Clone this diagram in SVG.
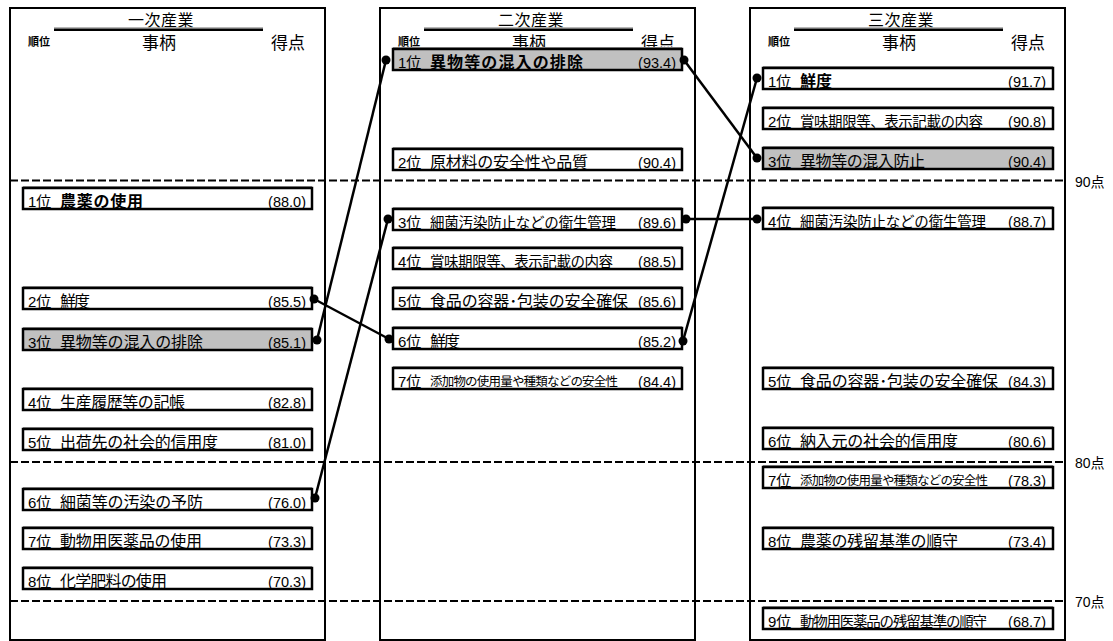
<svg xmlns="http://www.w3.org/2000/svg" width="1113" height="641" viewBox="0 0 1113 641">
<style>
.bg{fill:#fff}
.frame{fill:none;stroke:#000;stroke-width:2}
.box{fill:#fff;stroke:#000;stroke-width:2.5}
.gray{fill:#c0c0c0}
.sh{stroke:#999;stroke-width:1}
.t{font-family:"Liberation Sans","Noto Sans CJK JP",sans-serif;fill:#000}
.rank{font-size:15px}
.item{font-size:16px}
.long{font-size:14.5px}
.small{font-size:12.5px}
.b{font-weight:bold}
.score{font-size:14.5px;text-anchor:end}
.title{font-size:16px;text-anchor:middle;letter-spacing:0.5px}
.hdr{font-size:17px}
.jun{font-size:11px;font-weight:bold}
.ul{stroke:#000;stroke-width:2.5}
.ulg{stroke:#999;stroke-width:1}
.dash{stroke:#000;stroke-width:2;stroke-dasharray:8 3}
.lvl{font-size:14px}
.conn line{stroke:#000;stroke-width:2.5}
.conn circle{fill:#000}
</style>
<rect class="bg" x="0" y="0" width="1113" height="641"/>

<g id="col-primary">
  <rect class="frame" x="10" y="8" width="315" height="632"/>
  <text class="t title" x="161" y="26">一次産業</text>
  <line class="ulg" x1="54" y1="27.8" x2="263" y2="27.8"/>
  <line class="ul" x1="54" y1="29.8" x2="263" y2="29.8"/>
  <text class="t jun" x="28" y="46">順位</text>
  <text class="t hdr" x="159" y="49" text-anchor="middle">事柄</text>
  <text class="t hdr" x="271" y="49">得点</text>
</g>
<g id="col-secondary">
  <rect class="frame" x="380" y="8" width="315" height="632"/>
  <text class="t title" x="531" y="26">二次産業</text>
  <line class="ulg" x1="424" y1="27.8" x2="633" y2="27.8"/>
  <line class="ul" x1="424" y1="29.8" x2="633" y2="29.8"/>
  <text class="t jun" x="398" y="46">順位</text>
  <text class="t hdr" x="529" y="49" text-anchor="middle">事柄</text>
  <text class="t hdr" x="641" y="49">得点</text>
</g>
<g id="col-tertiary">
  <rect class="frame" x="750" y="8" width="315" height="632"/>
  <text class="t title" x="901" y="26">三次産業</text>
  <line class="ulg" x1="794" y1="27.8" x2="1003" y2="27.8"/>
  <line class="ul" x1="794" y1="29.8" x2="1003" y2="29.8"/>
  <text class="t jun" x="768" y="46">順位</text>
  <text class="t hdr" x="899" y="49" text-anchor="middle">事柄</text>
  <text class="t hdr" x="1011" y="49">得点</text>
</g>

<g id="levels">
  <line class="dash" x1="10" y1="180.5" x2="1066" y2="180.5"/>
  <line class="dash" x1="10" y1="462" x2="1066" y2="462"/>
  <line class="dash" x1="10" y1="601" x2="1066" y2="601"/>
  <text class="t lvl" x="1075" y="187">90点</text>
  <text class="t lvl" x="1075" y="468">80点</text>
  <text class="t lvl" x="1075" y="607">70点</text>
</g>

<!-- primary industry -->
<g id="p1"><line class="sh" x1="23" y1="186.5" x2="312" y2="186.5"/><rect class="box" x="23" y="188" width="289" height="21"/>
<text class="t rank" x="28" y="207">1位</text><text class="t item b" x="60" y="207" textLength="83" lengthAdjust="spacing">農薬の使用</text><text class="t score" x="306" y="207">(88.0)</text></g>
<g id="p2"><line class="sh" x1="23" y1="286.5" x2="312" y2="286.5"/><rect class="box" x="23" y="288" width="289" height="21"/>
<text class="t rank" x="28" y="307">2位</text><text class="t item" x="60" y="307" textLength="30" lengthAdjust="spacing">鮮度</text><text class="t score" x="306" y="307">(85.5)</text></g>
<g id="p3"><line class="sh" x1="23" y1="327.5" x2="312" y2="327.5"/><rect class="box gray" x="23" y="329" width="289" height="21"/>
<text class="t rank" x="28" y="348">3位</text><text class="t item" x="60" y="348" textLength="143" lengthAdjust="spacing">異物等の混入の排除</text><text class="t score" x="306" y="348">(85.1)</text></g>
<g id="p4"><line class="sh" x1="23" y1="387.5" x2="312" y2="387.5"/><rect class="box" x="23" y="389" width="289" height="21"/>
<text class="t rank" x="28" y="408">4位</text><text class="t item" x="60" y="408" textLength="125" lengthAdjust="spacing">生産履歴等の記帳</text><text class="t score" x="306" y="408">(82.8)</text></g>
<g id="p5"><line class="sh" x1="23" y1="427.5" x2="312" y2="427.5"/><rect class="box" x="23" y="429" width="289" height="21"/>
<text class="t rank" x="28" y="448">5位</text><text class="t item" x="60" y="448" textLength="158" lengthAdjust="spacing">出荷先の社会的信用度</text><text class="t score" x="306" y="448">(81.0)</text></g>
<g id="p6"><line class="sh" x1="23" y1="487.5" x2="312" y2="487.5"/><rect class="box" x="23" y="489" width="289" height="21"/>
<text class="t rank" x="28" y="508">6位</text><text class="t item" x="60" y="508" textLength="143" lengthAdjust="spacing">細菌等の汚染の予防</text><text class="t score" x="306" y="508">(76.0)</text></g>
<g id="p7"><line class="sh" x1="23" y1="526.5" x2="312" y2="526.5"/><rect class="box" x="23" y="528" width="289" height="21"/>
<text class="t rank" x="28" y="547">7位</text><text class="t item" x="60" y="547" textLength="142" lengthAdjust="spacing">動物用医薬品の使用</text><text class="t score" x="306" y="547">(73.3)</text></g>
<g id="p8"><line class="sh" x1="23" y1="566.5" x2="312" y2="566.5"/><rect class="box" x="23" y="568" width="289" height="21"/>
<text class="t rank" x="28" y="587">8位</text><text class="t item" x="60" y="587" textLength="107" lengthAdjust="spacing">化学肥料の使用</text><text class="t score" x="306" y="587">(70.3)</text></g>

<!-- secondary industry -->
<g id="s1"><line class="sh" x1="393" y1="47.5" x2="682" y2="47.5"/><rect class="box gray" x="393" y="49" width="289" height="21"/>
<text class="t rank" x="398" y="68">1位</text><text class="t item b" x="430" y="68" textLength="153" lengthAdjust="spacing">異物等の混入の排除</text><text class="t score" x="676" y="68">(93.4)</text></g>
<g id="s2"><line class="sh" x1="393" y1="147.5" x2="682" y2="147.5"/><rect class="box" x="393" y="149" width="289" height="21"/>
<text class="t rank" x="398" y="168">2位</text><text class="t item" x="430" y="168" textLength="158" lengthAdjust="spacing">原材料の安全性や品質</text><text class="t score" x="676" y="168">(90.4)</text></g>
<g id="s3"><line class="sh" x1="393" y1="207.5" x2="682" y2="207.5"/><rect class="box" x="393" y="209" width="289" height="21"/>
<text class="t rank" x="398" y="228">3位</text><text class="t long" x="430" y="228" textLength="186" lengthAdjust="spacing">細菌汚染防止などの衛生管理</text><text class="t score" x="676" y="228">(89.6)</text></g>
<g id="s4"><line class="sh" x1="393" y1="246.5" x2="682" y2="246.5"/><rect class="box" x="393" y="248" width="289" height="21"/>
<text class="t rank" x="398" y="267">4位</text><text class="t long" x="430" y="267" textLength="183" lengthAdjust="spacing">賞味期限等、表示記載の内容</text><text class="t score" x="676" y="267">(88.5)</text></g>
<g id="s5"><line class="sh" x1="393" y1="286.5" x2="682" y2="286.5"/><rect class="box" x="393" y="288" width="289" height="21"/>
<text class="t rank" x="398" y="307">5位</text><text class="t item" x="430" y="307" textLength="198" lengthAdjust="spacing">食品の容器･包装の安全確保</text><text class="t score" x="676" y="307">(85.6)</text></g>
<g id="s6"><line class="sh" x1="393" y1="326.5" x2="682" y2="326.5"/><rect class="box" x="393" y="328" width="289" height="21"/>
<text class="t rank" x="398" y="347">6位</text><text class="t item" x="430" y="347" textLength="30" lengthAdjust="spacing">鮮度</text><text class="t score" x="676" y="347">(85.2)</text></g>
<g id="s7"><line class="sh" x1="393" y1="366.5" x2="682" y2="366.5"/><rect class="box" x="393" y="368" width="289" height="21"/>
<text class="t rank" x="398" y="387">7位</text><text class="t item small" x="430" y="386" textLength="188" lengthAdjust="spacing">添加物の使用量や種類などの安全性</text><text class="t score" x="676" y="387">(84.4)</text></g>

<!-- tertiary industry -->
<g id="t1"><line class="sh" x1="763" y1="66.5" x2="1053" y2="66.5"/><rect class="box" x="763" y="68" width="290" height="21"/>
<text class="t rank" x="768" y="87">1位</text><text class="t item b" x="800" y="87" textLength="32" lengthAdjust="spacing">鮮度</text><text class="t score" x="1046" y="87">(91.7)</text></g>
<g id="t2"><line class="sh" x1="763" y1="106.5" x2="1053" y2="106.5"/><rect class="box" x="763" y="108" width="290" height="21"/>
<text class="t rank" x="768" y="127">2位</text><text class="t long" x="800" y="127" textLength="183" lengthAdjust="spacing">賞味期限等、表示記載の内容</text><text class="t score" x="1046" y="127">(90.8)</text></g>
<g id="t3"><line class="sh" x1="763" y1="146.5" x2="1053" y2="146.5"/><rect class="box gray" x="763" y="148" width="290" height="21"/>
<text class="t rank" x="768" y="167">3位</text><text class="t item" x="800" y="167" textLength="125" lengthAdjust="spacing">異物等の混入防止</text><text class="t score" x="1046" y="167">(90.4)</text></g>
<g id="t4"><line class="sh" x1="763" y1="206.5" x2="1053" y2="206.5"/><rect class="box" x="763" y="208" width="290" height="21"/>
<text class="t rank" x="768" y="227">4位</text><text class="t long" x="800" y="227" textLength="186" lengthAdjust="spacing">細菌汚染防止などの衛生管理</text><text class="t score" x="1046" y="227">(88.7)</text></g>
<g id="t5"><line class="sh" x1="763" y1="366.5" x2="1053" y2="366.5"/><rect class="box" x="763" y="368" width="290" height="21"/>
<text class="t rank" x="768" y="387">5位</text><text class="t item" x="800" y="387" textLength="198" lengthAdjust="spacing">食品の容器･包装の安全確保</text><text class="t score" x="1046" y="387">(84.3)</text></g>
<g id="t6"><line class="sh" x1="763" y1="426.5" x2="1053" y2="426.5"/><rect class="box" x="763" y="428" width="290" height="21"/>
<text class="t rank" x="768" y="447">6位</text><text class="t item" x="800" y="447" textLength="158" lengthAdjust="spacing">納入元の社会的信用度</text><text class="t score" x="1046" y="447">(80.6)</text></g>
<g id="t7"><line class="sh" x1="763" y1="465.5" x2="1053" y2="465.5"/><rect class="box" x="763" y="467" width="290" height="21"/>
<text class="t rank" x="768" y="486">7位</text><text class="t item small" x="800" y="485" textLength="188" lengthAdjust="spacing">添加物の使用量や種類などの安全性</text><text class="t score" x="1046" y="486">(78.3)</text></g>
<g id="t8"><line class="sh" x1="763" y1="526.5" x2="1053" y2="526.5"/><rect class="box" x="763" y="528" width="290" height="21"/>
<text class="t rank" x="768" y="547">8位</text><text class="t item" x="800" y="547" textLength="158" lengthAdjust="spacing">農薬の残留基準の順守</text><text class="t score" x="1046" y="547">(73.4)</text></g>
<g id="t9"><line class="sh" x1="763" y1="606.5" x2="1053" y2="606.5"/><rect class="box" x="763" y="608" width="290" height="21"/>
<text class="t rank" x="768" y="627">9位</text><text class="t long" x="800" y="627" textLength="187" lengthAdjust="spacing">動物用医薬品の残留基準の順守</text><text class="t score" x="1046" y="627">(68.7)</text></g>

<g id="connectors" class="conn">
  <line x1="317" y1="340" x2="386" y2="60"/>
  <line x1="314" y1="299" x2="389" y2="339"/>
  <line x1="315" y1="498" x2="388" y2="219"/>
  <line x1="684" y1="60" x2="757" y2="158"/>
  <line x1="686" y1="219" x2="757" y2="219"/>
  <line x1="683" y1="341" x2="757" y2="78"/>
  <circle cx="317" cy="340" r="4.5"/><circle cx="386" cy="60" r="4.5"/>
  <circle cx="314" cy="299" r="4.5"/><circle cx="389" cy="339" r="4.5"/>
  <circle cx="315" cy="498" r="4.5"/><circle cx="388" cy="219" r="4.5"/>
  <circle cx="684" cy="60" r="4.5"/><circle cx="757" cy="158" r="4.5"/>
  <circle cx="686" cy="219" r="4.5"/><circle cx="757" cy="219" r="4.5"/>
  <circle cx="683" cy="341" r="4.5"/><circle cx="757" cy="78" r="4.5"/>
</g>
</svg>
